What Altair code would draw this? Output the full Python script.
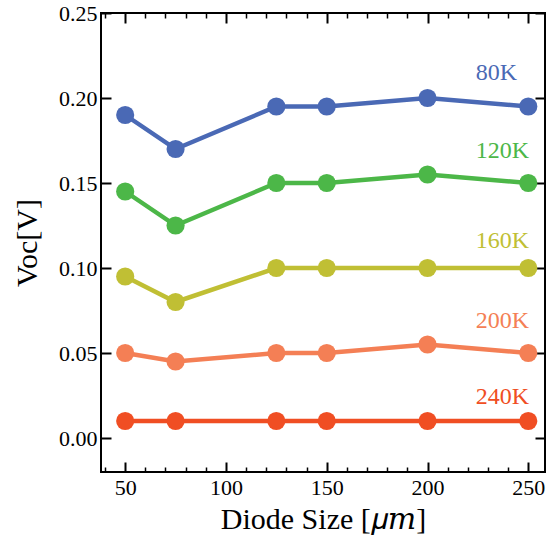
import altair as alt
import pandas as pd

# Diode size (µm) on the x axis
sizes = [50, 75, 125, 150, 200, 250]

# Open-circuit voltage per temperature
temps = ["80K", "120K", "160K", "200K", "240K"]
voc_80 = [0.190, 0.170, 0.195, 0.195, 0.200, 0.195]
voc_120 = [0.145, 0.125, 0.150, 0.150, 0.155, 0.150]
voc_160 = [0.095, 0.080, 0.100, 0.100, 0.100, 0.100]
voc_200 = [0.050, 0.045, 0.050, 0.050, 0.055, 0.050]
voc_240 = [0.010, 0.010, 0.010, 0.010, 0.010, 0.010]
colors = ["#4a69b5", "#4cb748", "#c0bf34", "#f47f55", "#f04e23"]

# Inline series labels (data coordinates)
label_x = [224, 224, 224, 224, 224]
label_y = [0.215, 0.169, 0.116, 0.069, 0.024]

# Axis ticks
x_major = [50, 100, 150, 200, 250]
x_minor = [40, 60, 70, 80, 90, 110, 120, 130, 140, 160, 170, 180, 190,
           210, 220, 230, 240]
y_major = [0.0, 0.05, 0.10, 0.15, 0.20, 0.25]

FONT = "Liberation Serif, DejaVu Serif, serif"
W, H = 444, 459

series = [voc_80, voc_120, voc_160, voc_200, voc_240]
rows = []
for t, vals in zip(temps, series):
    for s, v in zip(sizes, vals):
        rows.append({"size": s, "voc": v, "temp": t})
df = pd.DataFrame(rows)
labels = pd.DataFrame({"size": label_x, "voc": label_y, "temp": temps})

xscale = alt.Scale(domain=[38, 258.3], nice=False, zero=False)
yscale = alt.Scale(domain=[-0.02, 0.25], nice=False, zero=False)
cscale = alt.Scale(domain=temps, range=colors)

x_main = alt.X(
    "size:Q", scale=xscale,
    axis=alt.Axis(values=x_major, ticks=False, domain=False, grid=False,
                  labelFont=FONT, labelFontSize=22, labelColor="black",
                  labelPadding=5, title="Diode Size [𝜇𝑚]", titleFont=FONT,
                  titleFontSize=30, titleFontWeight="normal", titleColor="black",
                  titleX=W / 2, titleY=56, titleBaseline="alphabetic"),
)
y_main = alt.Y(
    "voc:Q", scale=yscale,
    axis=alt.Axis(values=y_major, format=".2f", ticks=False, domain=False,
                  grid=False, labelFont=FONT, labelFontSize=22,
                  labelColor="black", labelPadding=4, title="Voc[V]",
                  titleFont=FONT, titleFontSize=30, titleFontWeight="normal",
                  titleColor="black", titleX=-74, titleY=H / 2,
                  titleBaseline="middle"),
)
color = alt.Color("temp:N", scale=cscale, legend=None)

lines = alt.Chart(df).mark_line(strokeWidth=4.5).encode(
    x=x_main, y=y_main, color=color, detail="temp:N")

points = alt.Chart(df).mark_circle(size=330, opacity=1).encode(
    x=alt.X("size:Q", scale=xscale, axis=None),
    y=alt.Y("voc:Q", scale=yscale, axis=None),
    color=color)

texts = alt.Chart(labels).mark_text(
    font=FONT, fontSize=24, align="left", baseline="middle").encode(
    x=alt.X("size:Q", scale=xscale, axis=None),
    y=alt.Y("voc:Q", scale=yscale, axis=None),
    color=color, text="temp:N")


def tick_axis(orient, offset, values, size, width):
    return alt.Axis(orient=orient, offset=offset, values=values,
                    tickSize=size, tickWidth=width, tickColor="black",
                    labels=False, domain=False, grid=False, title=None)


# Inward-pointing ticks on all four sides of the frame
ticks_a = alt.Chart(df).mark_point(opacity=0).encode(
    x=alt.X("size:Q", scale=xscale,
            axis=tick_axis("top", -H, x_major, 10, 2)),
    y=alt.Y("voc:Q", scale=yscale,
            axis=tick_axis("right", -W, y_major, 10, 2)))
ticks_b = alt.Chart(df).mark_point(opacity=0).encode(
    x=alt.X("size:Q", scale=xscale,
            axis=tick_axis("bottom", -H, x_major, 10, 2)),
    y=alt.Y("voc:Q", scale=yscale,
            axis=tick_axis("left", -W, y_major, 10, 2)))
ticks_c = alt.Chart(df).mark_point(opacity=0).encode(
    x=alt.X("size:Q", scale=xscale,
            axis=tick_axis("top", -H, x_minor, 5, 1.5)),
    y=alt.Y("voc:Q", scale=yscale, axis=None))
ticks_d = alt.Chart(df).mark_point(opacity=0).encode(
    x=alt.X("size:Q", scale=xscale,
            axis=tick_axis("bottom", -H, x_minor, 5, 1.5)),
    y=alt.Y("voc:Q", scale=yscale, axis=None))

chart = alt.layer(lines, points, texts, ticks_a, ticks_b, ticks_c, ticks_d).resolve_axis(
    x="independent", y="independent"
).properties(
    width=W, height=H,
    padding={"left": 101, "top": 13, "right": 3, "bottom": 72},
    autosize=alt.AutoSizeParams(type="none"),
    background="white",
).configure_view(stroke="black", strokeWidth=2)

chart.save("out.html", embed_options={"renderer": "svg", "actions": False})
